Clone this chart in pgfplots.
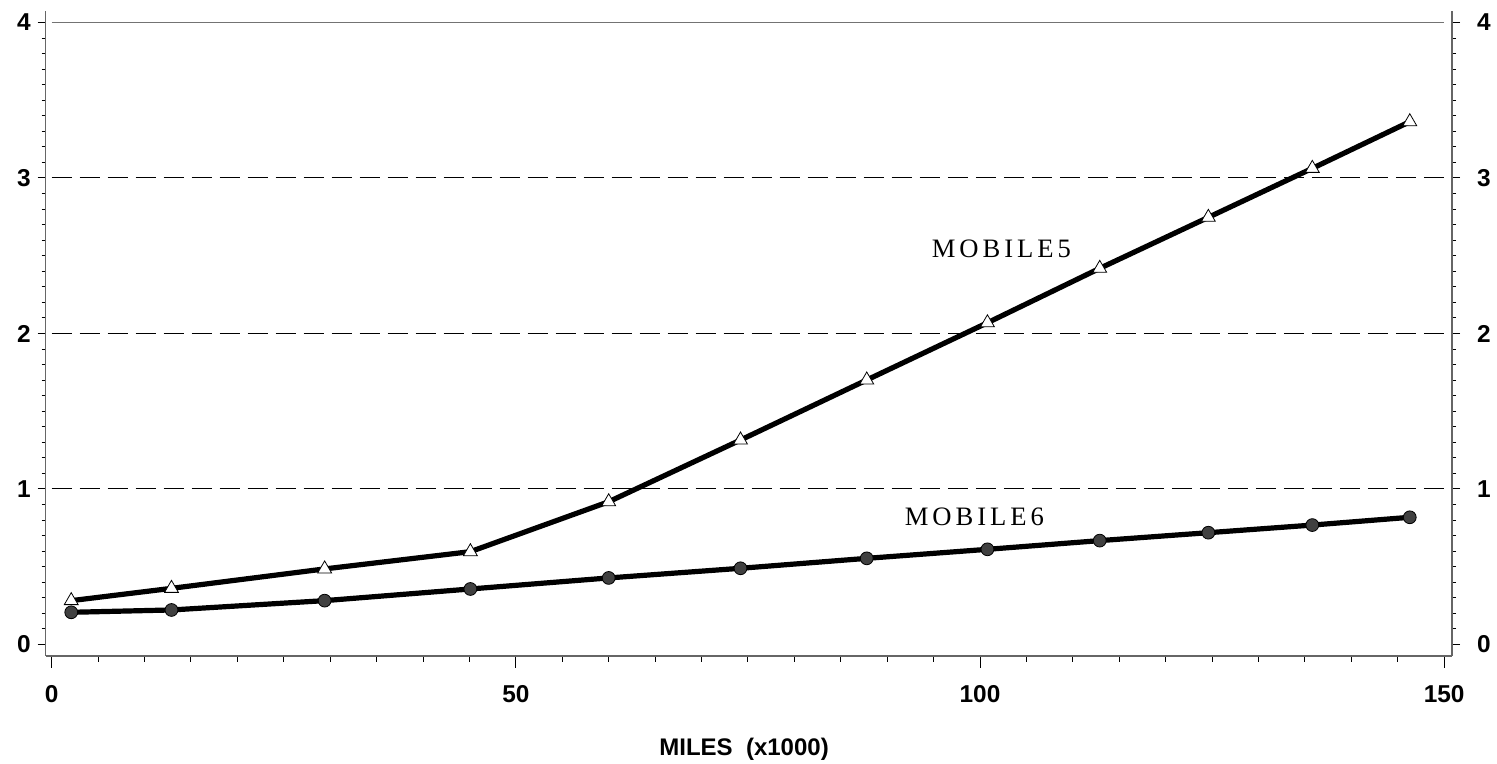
\documentclass[border=0pt]{standalone}
\usepackage{fontspec}
\setmainfont{Liberation Sans}
\newfontfamily\serifls[LetterSpace=15]{Liberation Serif}
\usepackage{pgfplots}
\usepackage{pgfplotstable}
\pgfplotsset{compat=1.18}

\pgfplotstableread{
x y
2.1 0.282
12.9 0.361
29.4 0.486
45.1 0.597
60.0 0.918
74.2 1.315
87.8 1.701
100.8 2.069
112.9 2.419
124.6 2.747
135.8 3.062
146.3 3.362
}\mobilefive

\pgfplotstableread{
x y
2.1 0.207
12.9 0.222
29.4 0.282
45.1 0.357
60.0 0.428
74.2 0.490
87.8 0.554
100.8 0.612
112.9 0.668
124.6 0.719
135.8 0.768
146.3 0.818
}\mobilesix

\begin{document}
\begin{tikzpicture}
\pgfplotsset{
  every axis/.append style={
    scale only axis,
    width=703.15pt, height=322.5pt,
    xmin=-0.65, xmax=150.85,
    ymin=-0.074, ymax=4.074,
    tick align=outside,
    axis line style={black!60, line width=0.7pt},
    tick style={black, line width=0.5pt},
    ticklabel style={font=\bfseries\fontsize{12.2}{13}\selectfont},
    /pgf/number format/assume math mode=true,
  }
}
% x axis and data
\begin{axis}[
  name=main,
  axis x line*=bottom, axis y line=none,
  ytick=\empty,
  xtick={0,50,100,150}, minor x tick num=9,
  major tick length=6pt, minor tick length=3pt,
  xticklabel style={yshift=-5pt},
  xlabel={MILES\ \ (x1000)},
  xlabel style={at={(rel axis cs:0.4966,0)}, anchor=base, yshift=-49.5pt,
    font=\bfseries\fontsize{12}{13}\selectfont},
  clip=false,
]
\addplot[black!55, line width=0.7pt] coordinates {(0,4) (150,4)};
\addplot[black, line width=0.5pt, dash pattern=on 10pt off 4pt] coordinates {(0,3) (150,3)};
\addplot[black, line width=0.5pt, dash pattern=on 10pt off 4pt] coordinates {(0,2) (150,2)};
\addplot[black, line width=0.5pt, dash pattern=on 10pt off 4pt] coordinates {(0,1) (150,1)};

\addplot[only marks, mark=triangle*, mark size=4pt,
  mark options={fill=white, draw=black, line width=0.4pt}] table[x=x,y=y] {\mobilefive};
\addplot[black, line width=2.6pt, no marks] table[x=x,y=y] {\mobilefive};

\addplot[only marks, mark=*, mark size=3.2pt,
  mark options={fill=black!75, draw=black, line width=0.4pt}] table[x=x,y=y] {\mobilesix};
\addplot[black, line width=2.6pt, no marks] table[x=x,y=y] {\mobilesix};

\node[anchor=base, font=\serifls\fontsize{13.3}{15}\selectfont] at (axis cs:102.3,2.49) {MOBILE5};
\node[anchor=base, font=\serifls\fontsize{13.3}{15}\selectfont] at (axis cs:99.4,0.768) {MOBILE6};
\end{axis}
% left y axis
\begin{axis}[
  axis x line=none, xtick=\empty,
  axis y line*=left,
  ytick={0,1,2,3,4}, minor y tick num=9,
  major tick length=4pt, minor tick length=2pt,
]
\end{axis}
% right y axis
\begin{axis}[
  axis x line=none, xtick=\empty,
  axis y line*=right,
  ytick={0,1,2,3,4}, minor y tick num=9,
  major tick length=4pt, minor tick length=2pt,
  yticklabel style={xshift=5pt},
]
\end{axis}
\pgfresetboundingbox
\path[use as bounding box] ([shift={(-22.85pt,-54pt)}]main.south west) rectangle ++(748.5pt,382pt);
\end{tikzpicture}
\end{document}
